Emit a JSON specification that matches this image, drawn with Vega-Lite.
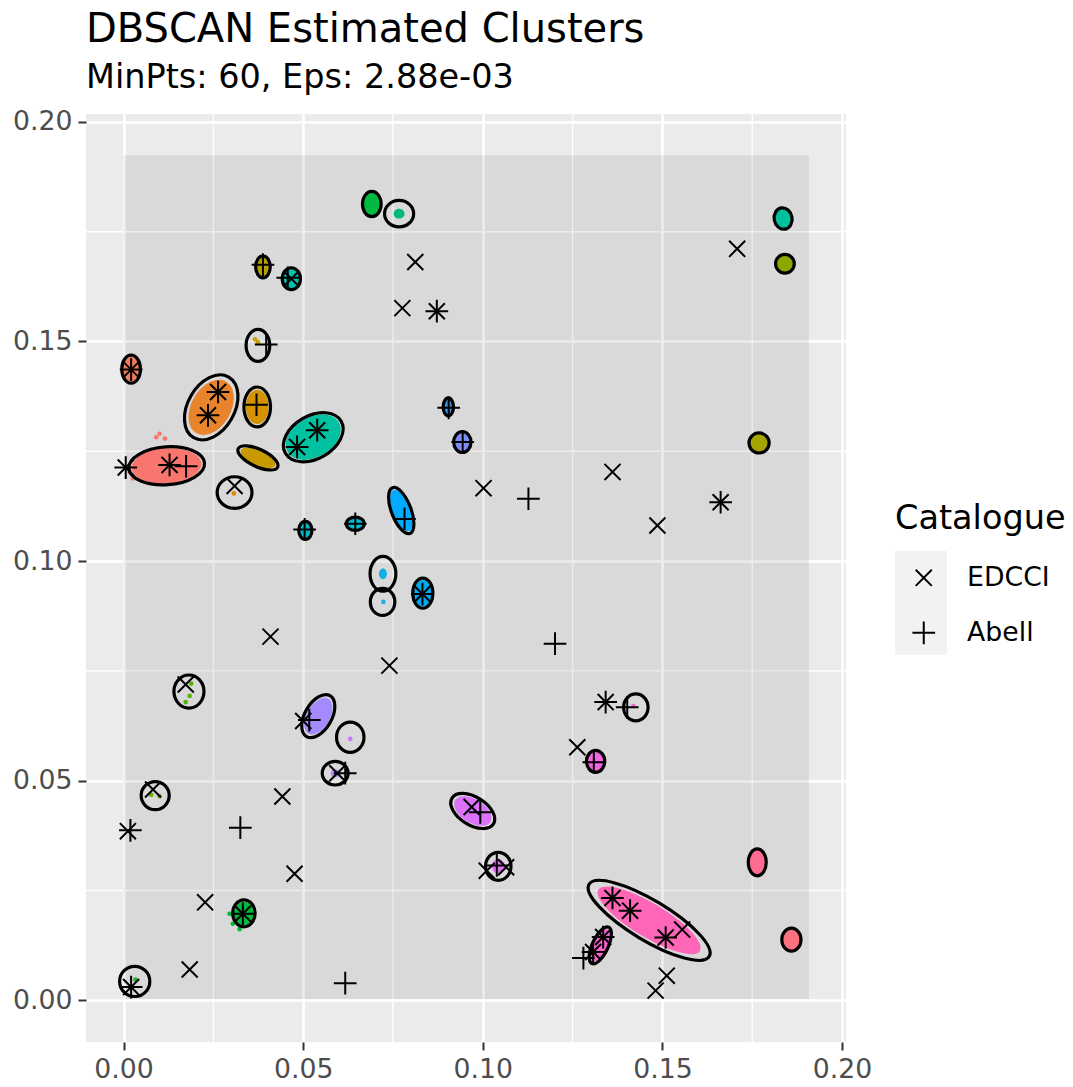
{
  "$schema": "https://vega.github.io/schema/vega-lite/v6.json",
  "autosize": {"type": "none"},
  "width": 760,
  "height": 928,
  "padding": {"left": 86, "top": 114, "right": 227, "bottom": 45},
  "background": "white",
  "title": {
    "text": "DBSCAN Estimated Clusters",
    "subtitle": "MinPts: 60, Eps: 2.88e-03",
    "anchor": "start",
    "frame": "group",
    "font": "DejaVu Sans",
    "fontSize": 40,
    "fontWeight": "normal",
    "color": "black",
    "subtitleFont": "DejaVu Sans",
    "subtitleFontSize": 33.5,
    "subtitleColor": "black",
    "subtitlePadding": 12,
    "offset": 14
  },
  "config": {
    "view": {"fill": "#EBEBEB", "stroke": null},
    "axis": {
      "labelFont": "DejaVu Sans",
      "labelFontSize": 26.7,
      "labelColor": "#4D4D4D",
      "tickColor": "#333333",
      "tickWidth": 2,
      "tickSize": 8,
      "labelPadding": 6,
      "domain": false,
      "gridColor": "white",
      "gridWidth": 2.7
    },
    "legend": {
      "titleFont": "DejaVu Sans",
      "titleFontSize": 33.5,
      "titleFontWeight": "normal",
      "titleColor": "black",
      "labelFont": "DejaVu Sans",
      "labelFontSize": 26.7,
      "labelColor": "black"
    }
  },
  "datasets": {
    "minor": [{"v": 0.025}, {"v": 0.075}, {"v": 0.125}, {"v": 0.175}],
    "noise": [{"x0": 0.0, "x1": 0.1908, "y0": 0.0003, "y1": 0.1924}],
    "clusters": [
      {"id": 1, "x": 0.0021, "y": 0.1437, "major": 0.0078, "ratio": 1.5, "angle": 90, "core": 0.0068},
      {"id": 2, "x": 0.0244, "y": 0.1350, "major": 0.0195, "ratio": 1.5, "angle": -60, "core": 0.0165},
      {"id": 3, "x": 0.0372, "y": 0.1351, "major": 0.0111, "ratio": 1.5, "angle": 90, "core": 0.0095},
      {"id": 4, "x": 0.0374, "y": 0.1235, "major": 0.0121, "ratio": 2.5, "angle": 25, "core": 0.0105},
      {"id": 5, "x": 0.0120, "y": 0.1217, "major": 0.0211, "ratio": 2, "angle": -4, "core": 0.0195},
      {"id": 6, "x": 0.0309, "y": 0.1156, "major": 0.0097, "ratio": 1.1, "angle": 0, "core": 0},
      {"id": 7, "x": 0.0388, "y": 0.1670, "major": 0.0061, "ratio": 1.5, "angle": 90, "core": 0.0052},
      {"id": 8, "x": 0.0467, "y": 0.1643, "major": 0.0061, "ratio": 1.2, "angle": 90, "core": 0.0054},
      {"id": 9, "x": 0.0374, "y": 0.1491, "major": 0.0089, "ratio": 1.35, "angle": 90, "core": 0},
      {"id": 10, "x": 0.0528, "y": 0.1282, "major": 0.0179, "ratio": 1.5, "angle": -30, "core": 0.0165},
      {"id": 11, "x": 0.0506, "y": 0.1070, "major": 0.0050, "ratio": 1.35, "angle": 90, "core": 0.0044},
      {"id": 12, "x": 0.0691, "y": 0.1813, "major": 0.0070, "ratio": 1.35, "angle": 90, "core": 0.0062},
      {"id": 13, "x": 0.0767, "y": 0.1791, "major": 0.0081, "ratio": 1.1, "angle": 0, "core": 0.0030},
      {"id": 14, "x": 0.0904, "y": 0.1351, "major": 0.0050, "ratio": 1.75, "angle": 90, "core": 0.0044},
      {"id": 15, "x": 0.0943, "y": 0.1271, "major": 0.0058, "ratio": 1.2, "angle": 90, "core": 0.0052},
      {"id": 16, "x": 0.0773, "y": 0.1115, "major": 0.0136, "ratio": 2.5, "angle": 69, "core": 0.0122},
      {"id": 17, "x": 0.0645, "y": 0.1085, "major": 0.0050, "ratio": 1.35, "angle": 0, "core": 0.0044},
      {"id": 18, "x": 0.0722, "y": 0.0971, "major": 0.0097, "ratio": 1.35, "angle": 90, "core": 0.0030},
      {"id": 19, "x": 0.0721, "y": 0.0907, "major": 0.0075, "ratio": 1.1, "angle": 90, "core": 0},
      {"id": 20, "x": 0.0833, "y": 0.0927, "major": 0.0084, "ratio": 1.5, "angle": 90, "core": 0.0075},
      {"id": 21, "x": 0.1836, "y": 0.1780, "major": 0.0060, "ratio": 1.2, "angle": 80, "core": 0.0054},
      {"id": 22, "x": 0.1841, "y": 0.1677, "major": 0.0052, "ratio": 1, "angle": 0, "core": 0.0046},
      {"id": 23, "x": 0.1769, "y": 0.1269, "major": 0.0056, "ratio": 1, "angle": 0, "core": 0.0050},
      {"id": 24, "x": 0.1426, "y": 0.0667, "major": 0.0075, "ratio": 1.1, "angle": 90, "core": 0},
      {"id": 25, "x": 0.0182, "y": 0.0703, "major": 0.0092, "ratio": 1.1, "angle": 90, "core": 0},
      {"id": 26, "x": 0.0542, "y": 0.0647, "major": 0.0131, "ratio": 1.75, "angle": -60, "core": 0.0112},
      {"id": 27, "x": 0.0631, "y": 0.0599, "major": 0.0084, "ratio": 1.1, "angle": 90, "core": 0},
      {"id": 28, "x": 0.0589, "y": 0.0517, "major": 0.0072, "ratio": 1.1, "angle": 0, "core": 0.0025},
      {"id": 29, "x": 0.0088, "y": 0.0466, "major": 0.0078, "ratio": 1, "angle": 0, "core": 0},
      {"id": 30, "x": 0.0335, "y": 0.0198, "major": 0.0075, "ratio": 1.2, "angle": 90, "core": 0.0066},
      {"id": 31, "x": 0.0031, "y": 0.0043, "major": 0.0084, "ratio": 1, "angle": 0, "core": 0},
      {"id": 32, "x": 0.0972, "y": 0.0431, "major": 0.0136, "ratio": 1.75, "angle": 32, "core": 0.0115},
      {"id": 33, "x": 0.1043, "y": 0.0305, "major": 0.0078, "ratio": 1.1, "angle": 90, "core": 0.0040},
      {"id": 34, "x": 0.1314, "y": 0.0544, "major": 0.0061, "ratio": 1.2, "angle": 90, "core": 0.0054},
      {"id": 35, "x": 0.1463, "y": 0.0182, "major": 0.0390, "ratio": 3.5, "angle": 31, "core": 0.0330},
      {"id": 36, "x": 0.1327, "y": 0.0125, "major": 0.0111, "ratio": 2.5, "angle": -65, "core": 0.0098},
      {"id": 37, "x": 0.1764, "y": 0.0314, "major": 0.0075, "ratio": 1.5, "angle": 90, "core": 0.0066},
      {"id": 38, "x": 0.1859, "y": 0.0138, "major": 0.0064, "ratio": 1.2, "angle": 90, "core": 0.0057}
    ],
    "members": [
      {"id": 5, "x": 0.0091, "y": 0.1282}, {"id": 5, "x": 0.0115, "y": 0.1279}, {"id": 5, "x": 0.0100, "y": 0.1290},
      {"id": 5, "x": 0.0026, "y": 0.1188}, {"id": 5, "x": 0.0017, "y": 0.1203},
      {"id": 6, "x": 0.0307, "y": 0.1154},
      {"id": 9, "x": 0.0374, "y": 0.1498}, {"id": 9, "x": 0.0366, "y": 0.1505},
      {"id": 19, "x": 0.0723, "y": 0.0907},
      {"id": 24, "x": 0.1419, "y": 0.0670},
      {"id": 25, "x": 0.0188, "y": 0.0721}, {"id": 25, "x": 0.0184, "y": 0.0693}, {"id": 25, "x": 0.0173, "y": 0.0679},
      {"id": 27, "x": 0.0631, "y": 0.0595},
      {"id": 29, "x": 0.0077, "y": 0.0468}, {"id": 29, "x": 0.0100, "y": 0.0465},
      {"id": 30, "x": 0.0295, "y": 0.0197}, {"id": 30, "x": 0.0323, "y": 0.0162}, {"id": 30, "x": 0.0304, "y": 0.0174},
      {"id": 31, "x": 0.0033, "y": 0.0047}
    ],
    "catalogue": [
      {"catalogue": "EDCCI", "x": 0.0467, "y": 0.1643},
      {"catalogue": "EDCCI", "x": 0.0021, "y": 0.1436},
      {"catalogue": "EDCCI", "x": 0.0263, "y": 0.1385},
      {"catalogue": "EDCCI", "x": 0.0235, "y": 0.1332},
      {"catalogue": "EDCCI", "x": 0.0812, "y": 0.1681},
      {"catalogue": "EDCCI", "x": 0.0776, "y": 0.1576},
      {"catalogue": "EDCCI", "x": 0.0872, "y": 0.1569},
      {"catalogue": "EDCCI", "x": 0.1708, "y": 0.1711},
      {"catalogue": "EDCCI", "x": 0.0006, "y": 0.1213},
      {"catalogue": "EDCCI", "x": 0.0128, "y": 0.1219},
      {"catalogue": "EDCCI", "x": 0.0309, "y": 0.1171},
      {"catalogue": "EDCCI", "x": 0.0409, "y": 0.0828},
      {"catalogue": "EDCCI", "x": 0.0173, "y": 0.0719},
      {"catalogue": "EDCCI", "x": 0.0483, "y": 0.1260},
      {"catalogue": "EDCCI", "x": 0.0539, "y": 0.1298},
      {"catalogue": "EDCCI", "x": 0.0832, "y": 0.0925},
      {"catalogue": "EDCCI", "x": 0.1002, "y": 0.1166},
      {"catalogue": "EDCCI", "x": 0.0740, "y": 0.0762},
      {"catalogue": "EDCCI", "x": 0.1361, "y": 0.1203},
      {"catalogue": "EDCCI", "x": 0.1486, "y": 0.1081},
      {"catalogue": "EDCCI", "x": 0.1662, "y": 0.1134},
      {"catalogue": "EDCCI", "x": 0.1342, "y": 0.0679},
      {"catalogue": "EDCCI", "x": 0.0082, "y": 0.0480},
      {"catalogue": "EDCCI", "x": 0.0012, "y": 0.0385},
      {"catalogue": "EDCCI", "x": 0.0442, "y": 0.0464},
      {"catalogue": "EDCCI", "x": 0.0476, "y": 0.0288},
      {"catalogue": "EDCCI", "x": 0.0227, "y": 0.0223},
      {"catalogue": "EDCCI", "x": 0.0332, "y": 0.0197},
      {"catalogue": "EDCCI", "x": 0.0184, "y": 0.0070},
      {"catalogue": "EDCCI", "x": 0.0021, "y": 0.0030},
      {"catalogue": "EDCCI", "x": 0.0500, "y": 0.0636},
      {"catalogue": "EDCCI", "x": 0.0595, "y": 0.0517},
      {"catalogue": "EDCCI", "x": 0.0969, "y": 0.0440},
      {"catalogue": "EDCCI", "x": 0.1011, "y": 0.0295},
      {"catalogue": "EDCCI", "x": 0.1065, "y": 0.0303},
      {"catalogue": "EDCCI", "x": 0.1263, "y": 0.0576},
      {"catalogue": "EDCCI", "x": 0.1361, "y": 0.0233},
      {"catalogue": "EDCCI", "x": 0.1410, "y": 0.0204},
      {"catalogue": "EDCCI", "x": 0.1509, "y": 0.0143},
      {"catalogue": "EDCCI", "x": 0.1555, "y": 0.0161},
      {"catalogue": "EDCCI", "x": 0.1335, "y": 0.0144},
      {"catalogue": "EDCCI", "x": 0.1307, "y": 0.0110},
      {"catalogue": "EDCCI", "x": 0.1512, "y": 0.0056},
      {"catalogue": "EDCCI", "x": 0.1481, "y": 0.0022},
      {"catalogue": "Abell", "x": 0.0388, "y": 0.1675},
      {"catalogue": "Abell", "x": 0.0457, "y": 0.1645},
      {"catalogue": "Abell", "x": 0.0397, "y": 0.1493},
      {"catalogue": "Abell", "x": 0.0021, "y": 0.1436},
      {"catalogue": "Abell", "x": 0.0263, "y": 0.1385},
      {"catalogue": "Abell", "x": 0.0235, "y": 0.1332},
      {"catalogue": "Abell", "x": 0.0370, "y": 0.1356},
      {"catalogue": "Abell", "x": 0.0872, "y": 0.1569},
      {"catalogue": "Abell", "x": 0.0905, "y": 0.1349},
      {"catalogue": "Abell", "x": 0.0006, "y": 0.1213},
      {"catalogue": "Abell", "x": 0.0128, "y": 0.1219},
      {"catalogue": "Abell", "x": 0.0174, "y": 0.1216},
      {"catalogue": "Abell", "x": 0.0504, "y": 0.1072},
      {"catalogue": "Abell", "x": 0.0483, "y": 0.1260},
      {"catalogue": "Abell", "x": 0.0539, "y": 0.1298},
      {"catalogue": "Abell", "x": 0.0944, "y": 0.1271},
      {"catalogue": "Abell", "x": 0.0782, "y": 0.1096},
      {"catalogue": "Abell", "x": 0.0645, "y": 0.1085},
      {"catalogue": "Abell", "x": 0.0832, "y": 0.0925},
      {"catalogue": "Abell", "x": 0.1127, "y": 0.1142},
      {"catalogue": "Abell", "x": 0.1201, "y": 0.0812},
      {"catalogue": "Abell", "x": 0.1662, "y": 0.1134},
      {"catalogue": "Abell", "x": 0.1342, "y": 0.0679},
      {"catalogue": "Abell", "x": 0.1402, "y": 0.0667},
      {"catalogue": "Abell", "x": 0.0019, "y": 0.0387},
      {"catalogue": "Abell", "x": 0.0325, "y": 0.0393},
      {"catalogue": "Abell", "x": 0.0332, "y": 0.0197},
      {"catalogue": "Abell", "x": 0.0021, "y": 0.0030},
      {"catalogue": "Abell", "x": 0.0517, "y": 0.0638},
      {"catalogue": "Abell", "x": 0.0617, "y": 0.0517},
      {"catalogue": "Abell", "x": 0.0993, "y": 0.0428},
      {"catalogue": "Abell", "x": 0.1039, "y": 0.0307},
      {"catalogue": "Abell", "x": 0.0617, "y": 0.0039},
      {"catalogue": "Abell", "x": 0.1280, "y": 0.0096},
      {"catalogue": "Abell", "x": 0.1309, "y": 0.0542},
      {"catalogue": "Abell", "x": 0.1361, "y": 0.0233},
      {"catalogue": "Abell", "x": 0.1410, "y": 0.0204},
      {"catalogue": "Abell", "x": 0.1509, "y": 0.0143},
      {"catalogue": "Abell", "x": 0.1335, "y": 0.0144},
      {"catalogue": "Abell", "x": 0.1307, "y": 0.0110}
    ],
    "keys": [{"catalogue": "EDCCI"}, {"catalogue": "Abell"}]
  },
  "layer": [
    {
      "data": {"name": "minor"},
      "mark": {"type": "rule", "color": "white", "strokeWidth": 1.4},
      "encoding": {
        "x": {"field": "v", "type": "quantitative", "title": null,
              "scale": {"domain": [-0.01046, 0.2011], "nice": false, "zero": false},
              "axis": {"values": [0, 0.05, 0.1, 0.15, 0.2], "format": ".2f", "title": null}}
      }
    },
    {
      "data": {"name": "minor"},
      "mark": {"type": "rule", "color": "white", "strokeWidth": 1.4},
      "encoding": {
        "y": {"field": "v", "type": "quantitative", "title": null,
              "scale": {"domain": [-0.0095, 0.2018], "nice": false, "zero": false},
              "axis": {"values": [0, 0.05, 0.1, 0.15, 0.2], "format": ".2f", "title": null}}
      }
    },
    {
      "data": {"name": "noise"},
      "mark": {"type": "rect", "color": "black", "opacity": 0.075},
      "encoding": {
        "x": {"field": "x0", "type": "quantitative", "title": null,
              "scale": {"domain": [-0.01046, 0.2011], "nice": false, "zero": false},
              "axis": {"values": [0, 0.05, 0.1, 0.15, 0.2], "format": ".2f", "title": null}},
        "x2": {"field": "x1"},
        "y": {"field": "y0", "type": "quantitative", "title": null,
              "scale": {"domain": [-0.0095, 0.2018], "nice": false, "zero": false},
              "axis": {"values": [0, 0.05, 0.1, 0.15, 0.2], "format": ".2f", "title": null}},
        "y2": {"field": "y1"}
      }
    },
    {
      "data": {"name": "clusters"},
      "mark": {"type": "point", "filled": true, "opacity": 1, "strokeWidth": 0},
      "encoding": {
        "x": {"field": "x", "type": "quantitative", "title": null,
              "axis": {"values": [0, 0.05, 0.1, 0.15, 0.2], "format": ".2f", "title": null}},
        "y": {"field": "y", "type": "quantitative", "title": null,
              "axis": {"values": [0, 0.05, 0.1, 0.15, 0.2], "format": ".2f", "title": null}},
        "color": {"field": "id", "type": "nominal", "legend": null,
                  "scale": {"domain": [1,2,3,4,5,6,7,8,9,10,11,12,13,14,15,16,17,18,19,20,21,22,23,24,25,26,27,28,29,30,31,32,33,34,35,36,37,38],
                            "range": ["#F37B59","#E9842C","#D49200","#C69A00","#F8766D","#E58700","#B3A000","#00C0AF","#C8A000","#00C1A0","#00B7C4","#00BA42","#00B87A","#3A95E6","#7D8CF5","#00ABFD","#00BDD0","#13B0E6","#1AB0E8","#00A8F0","#00C19A","#8EA700","#A6A400","#F166D0","#5BB300","#A58AFF","#C77CFF","#B983FF","#6BB100","#00BA38","#1CB43C","#DC71FA","#E36EF6","#F564E3","#FF66B8","#FD61D1","#FF6C91","#FC717F"]}},
        "shape": {"field": "ratio", "type": "nominal", "legend": null,
                  "scale": {"domain": [1, 1.1, 1.2, 1.35, 1.5, 1.75, 2, 2.5, 3.5],
                            "range": [
                              "M 1 0 C 1 0.5523 0.5523 1 0 1 C -0.5523 1 -1 0.5523 -1 0 C -1 -0.5523 -0.5523 -1 0 -1 C 0.5523 -1 1 -0.5523 1 0 Z",
                              "M 1 0 C 1 0.5021 0.5523 0.9091 0 0.9091 C -0.5523 0.9091 -1 0.5021 -1 0 C -1 -0.5021 -0.5523 -0.9091 0 -0.9091 C 0.5523 -0.9091 1 -0.5021 1 0 Z",
                              "M 1 0 C 1 0.4603 0.5523 0.8333 0 0.8333 C -0.5523 0.8333 -1 0.4603 -1 0 C -1 -0.4603 -0.5523 -0.8333 0 -0.8333 C 0.5523 -0.8333 1 -0.4603 1 0 Z",
                              "M 1 0 C 1 0.4091 0.5523 0.7407 0 0.7407 C -0.5523 0.7407 -1 0.4091 -1 0 C -1 -0.4091 -0.5523 -0.7407 0 -0.7407 C 0.5523 -0.7407 1 -0.4091 1 0 Z",
                              "M 1 0 C 1 0.3682 0.5523 0.6667 0 0.6667 C -0.5523 0.6667 -1 0.3682 -1 0 C -1 -0.3682 -0.5523 -0.6667 0 -0.6667 C 0.5523 -0.6667 1 -0.3682 1 0 Z",
                              "M 1 0 C 1 0.3156 0.5523 0.5714 0 0.5714 C -0.5523 0.5714 -1 0.3156 -1 0 C -1 -0.3156 -0.5523 -0.5714 0 -0.5714 C 0.5523 -0.5714 1 -0.3156 1 0 Z",
                              "M 1 0 C 1 0.2762 0.5523 0.5 0 0.5 C -0.5523 0.5 -1 0.2762 -1 0 C -1 -0.2762 -0.5523 -0.5 0 -0.5 C 0.5523 -0.5 1 -0.2762 1 0 Z",
                              "M 1 0 C 1 0.2209 0.5523 0.4 0 0.4 C -0.5523 0.4 -1 0.2209 -1 0 C -1 -0.2209 -0.5523 -0.4 0 -0.4 C 0.5523 -0.4 1 -0.2209 1 0 Z",
                              "M 1 0 C 1 0.1578 0.5523 0.2857 0 0.2857 C -0.5523 0.2857 -1 0.1578 -1 0 C -1 -0.1578 -0.5523 -0.2857 0 -0.2857 C 0.5523 -0.2857 1 -0.1578 1 0 Z"
                            ]}},
        "size": {"field": "core", "type": "quantitative", "legend": null,
                 "scale": {"type": "pow", "exponent": 2, "domain": [0, 0.2], "range": [0, 516673], "zero": true}},
        "angle": {"field": "angle", "type": "quantitative", "scale": null}
      }
    },
    {
      "data": {"name": "members"},
      "mark": {"type": "circle", "opacity": 1, "size": 22},
      "encoding": {
        "x": {"field": "x", "type": "quantitative", "title": null,
              "axis": {"values": [0, 0.05, 0.1, 0.15, 0.2], "format": ".2f", "title": null}},
        "y": {"field": "y", "type": "quantitative", "title": null,
              "axis": {"values": [0, 0.05, 0.1, 0.15, 0.2], "format": ".2f", "title": null}},
        "color": {"field": "id", "type": "nominal", "legend": null}
      }
    },
    {
      "data": {"name": "clusters"},
      "mark": {"type": "point", "filled": false, "opacity": 1, "color": "black", "strokeWidth": 3.2},
      "encoding": {
        "x": {"field": "x", "type": "quantitative", "title": null,
              "axis": {"values": [0, 0.05, 0.1, 0.15, 0.2], "format": ".2f", "title": null}},
        "y": {"field": "y", "type": "quantitative", "title": null,
              "axis": {"values": [0, 0.05, 0.1, 0.15, 0.2], "format": ".2f", "title": null}},
        "shape": {"field": "ratio", "type": "nominal", "legend": null,
                  "scale": {"domain": [1, 1.1, 1.2, 1.35, 1.5, 1.75, 2, 2.5, 3.5],
                            "range": [
                              "M 1 0 C 1 0.5523 0.5523 1 0 1 C -0.5523 1 -1 0.5523 -1 0 C -1 -0.5523 -0.5523 -1 0 -1 C 0.5523 -1 1 -0.5523 1 0 Z",
                              "M 1 0 C 1 0.5021 0.5523 0.9091 0 0.9091 C -0.5523 0.9091 -1 0.5021 -1 0 C -1 -0.5021 -0.5523 -0.9091 0 -0.9091 C 0.5523 -0.9091 1 -0.5021 1 0 Z",
                              "M 1 0 C 1 0.4603 0.5523 0.8333 0 0.8333 C -0.5523 0.8333 -1 0.4603 -1 0 C -1 -0.4603 -0.5523 -0.8333 0 -0.8333 C 0.5523 -0.8333 1 -0.4603 1 0 Z",
                              "M 1 0 C 1 0.4091 0.5523 0.7407 0 0.7407 C -0.5523 0.7407 -1 0.4091 -1 0 C -1 -0.4091 -0.5523 -0.7407 0 -0.7407 C 0.5523 -0.7407 1 -0.4091 1 0 Z",
                              "M 1 0 C 1 0.3682 0.5523 0.6667 0 0.6667 C -0.5523 0.6667 -1 0.3682 -1 0 C -1 -0.3682 -0.5523 -0.6667 0 -0.6667 C 0.5523 -0.6667 1 -0.3682 1 0 Z",
                              "M 1 0 C 1 0.3156 0.5523 0.5714 0 0.5714 C -0.5523 0.5714 -1 0.3156 -1 0 C -1 -0.3156 -0.5523 -0.5714 0 -0.5714 C 0.5523 -0.5714 1 -0.3156 1 0 Z",
                              "M 1 0 C 1 0.2762 0.5523 0.5 0 0.5 C -0.5523 0.5 -1 0.2762 -1 0 C -1 -0.2762 -0.5523 -0.5 0 -0.5 C 0.5523 -0.5 1 -0.2762 1 0 Z",
                              "M 1 0 C 1 0.2209 0.5523 0.4 0 0.4 C -0.5523 0.4 -1 0.2209 -1 0 C -1 -0.2209 -0.5523 -0.4 0 -0.4 C 0.5523 -0.4 1 -0.2209 1 0 Z",
                              "M 1 0 C 1 0.1578 0.5523 0.2857 0 0.2857 C -0.5523 0.2857 -1 0.1578 -1 0 C -1 -0.1578 -0.5523 -0.2857 0 -0.2857 C 0.5523 -0.2857 1 -0.1578 1 0 Z"
                            ]}},
        "size": {"field": "major", "type": "quantitative", "legend": null,
                 "scale": {"type": "pow", "exponent": 2, "domain": [0, 0.2], "range": [0, 516673], "zero": true}},
        "angle": {"field": "angle", "type": "quantitative", "scale": null}
      }
    },
    {
      "data": {"name": "keys"},
      "mark": {"type": "square", "opacity": 1, "size": 0},
      "encoding": {
        "x": {"datum": 0, "type": "quantitative", "title": null,
              "axis": {"values": [0, 0.05, 0.1, 0.15, 0.2], "format": ".2f", "title": null}},
        "y": {"datum": 0, "type": "quantitative", "title": null,
              "axis": {"values": [0, 0.05, 0.1, 0.15, 0.2], "format": ".2f", "title": null}},
        "fill": {"field": "catalogue", "type": "nominal",
                 "scale": {"domain": ["EDCCI", "Abell"], "range": ["#F2F2F2", "#F2F2F2"]},
                 "legend": {"title": null, "orient": "none", "legendX": 809, "legendY": 437,
                            "symbolType": "square", "symbolSize": 2704, "symbolStrokeWidth": 0,
                            "symbolOpacity": 1, "labelExpr": "''", "rowPadding": 0, "padding": 0,
                            "zindex": 0}}
      }
    },
    {
      "data": {"name": "catalogue"},
      "mark": {"type": "point", "filled": false, "opacity": 1, "color": "black", "strokeWidth": 2, "size": 515},
      "encoding": {
        "x": {"field": "x", "type": "quantitative", "title": null,
              "axis": {"values": [0, 0.05, 0.1, 0.15, 0.2], "format": ".2f", "title": null}},
        "y": {"field": "y", "type": "quantitative", "title": null,
              "axis": {"values": [0, 0.05, 0.1, 0.15, 0.2], "format": ".2f", "title": null}},
        "shape": {"field": "catalogue", "type": "nominal",
                  "scale": {"domain": ["EDCCI", "Abell"],
                            "range": ["M -0.7071 -0.7071 L 0.7071 0.7071 M -0.7071 0.7071 L 0.7071 -0.7071",
                                      "M -1 0 L 1 0 M 0 -1 L 0 1"]},
                  "legend": {"title": "Catalogue", "orient": "none", "legendX": 809, "legendY": 389,
                             "symbolSize": 515, "symbolStrokeWidth": 2, "symbolStrokeColor": "black",
                             "symbolOffset": 15.4, "labelOffset": 30, "titlePadding": 28,
                             "rowPadding": 25, "padding": 0, "zindex": 1}}
      }
    }
  ],
  "resolve": {
    "scale": {"shape": "independent", "size": "independent", "fill": "independent"},
    "legend": {"shape": "independent", "fill": "independent"}
  }
}
